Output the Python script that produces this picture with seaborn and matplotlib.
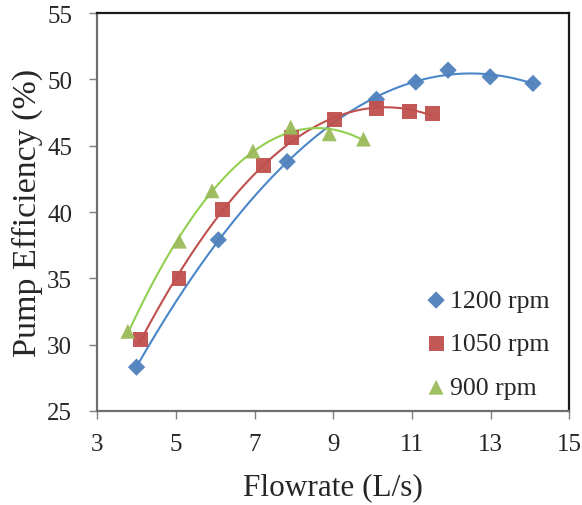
import numpy as np
import pandas as pd
import matplotlib
matplotlib.use("Agg")
import matplotlib.pyplot as plt
import seaborn as sns

# Measured pump efficiency at three rotational speeds
flow_1200 = [4.0, 6.08, 7.83, 10.1, 11.1, 11.92, 12.99, 14.08]
eff_1200 = [28.3, 37.9, 43.8, 48.5, 49.8, 50.7, 50.2, 49.7]

flow_1050 = [4.09, 5.08, 6.19, 7.22, 7.93, 9.03, 10.09, 10.93, 11.52]
eff_1050 = [30.4, 35.0, 40.2, 43.5, 45.6, 47.0, 47.8, 47.6, 47.4]

flow_900 = [3.78, 5.09, 5.92, 6.96, 7.92, 8.9, 9.77]
eff_900 = [31.0, 37.8, 41.6, 44.6, 46.4, 45.9, 45.5]

series_labels = ["1200 rpm", "1050 rpm", "900 rpm"]
x_ticks = [3, 5, 7, 9, 11, 13, 15]
y_ticks = [25, 30, 35, 40, 45, 50, 55]

df = pd.concat([
    pd.DataFrame({"Flowrate": flow_1200, "Efficiency": eff_1200, "Speed": series_labels[0]}),
    pd.DataFrame({"Flowrate": flow_1050, "Efficiency": eff_1050, "Speed": series_labels[1]}),
    pd.DataFrame({"Flowrate": flow_900, "Efficiency": eff_900, "Speed": series_labels[2]}),
], ignore_index=True)

marker_colors = {"1200 rpm": "#4F81BD", "1050 rpm": "#C0504D", "900 rpm": "#9BBB59"}
line_colors = {"1200 rpm": "#4A86C8", "1050 rpm": "#C0504D", "900 rpm": "#92D050"}
marker_shapes = {"1200 rpm": "D", "1050 rpm": "s", "900 rpm": "^"}
marker_area = {"1200 rpm": 78, "1050 rpm": 115, "900 rpm": 115}

sns.set_theme(style="white")
plt.rcParams["font.family"] = ["Liberation Serif", "DejaVu Serif"]

fig, ax = plt.subplots(figsize=(5.82, 5.06), dpi=100)
fig.subplots_adjust(left=0.167, right=0.978, top=0.972, bottom=0.186)

for label in series_labels:
    sub = df[df["Speed"] == label]
    # Quadratic trend line through each speed's measurements
    coeffs = np.polyfit(sub["Flowrate"], sub["Efficiency"], 2)
    xs = np.linspace(sub["Flowrate"].min(), sub["Flowrate"].max(), 200)
    ax.plot(xs, np.polyval(coeffs, xs), color=line_colors[label], lw=1.5, zorder=2)
    sns.scatterplot(data=sub, x="Flowrate", y="Efficiency", color=marker_colors[label],
                    marker=marker_shapes[label], s=marker_area[label], edgecolor="none",
                    alpha=0.95, label=label, legend=False, ax=ax, zorder=3)

ax.set_xlim(3, 15)
ax.set_ylim(25, 55)
ax.set_xticks(x_ticks)
ax.set_yticks(y_ticks)
ax.tick_params(axis="both", labelsize=18, direction="out", length=6, width=1,
               color="#808080", bottom=True, left=True)
ax.tick_params(axis="x", pad=10)
ax.tick_params(axis="y", pad=12)
for side in ["top", "right"]:
    ax.spines[side].set_visible(True)
    ax.spines[side].set_color("#1a1a1a")
    ax.spines[side].set_linewidth(1.6)
for side in ["left", "bottom"]:
    ax.spines[side].set_visible(True)
    ax.spines[side].set_color("#6e6e6e")
    ax.spines[side].set_linewidth(1.6)

ax.set_xlabel("Flowrate (L/s)", fontsize=22.5, labelpad=12)
ax.set_ylabel("Pump Efficiency (%)", fontsize=24.5, labelpad=3)

handles, labels = ax.get_legend_handles_labels()
ax.legend(handles, labels, loc="lower left", bbox_to_anchor=(0.699, 0.03),
          frameon=False, fontsize=18.5, handlelength=0.7, handletextpad=0.2,
          labelspacing=0.8, borderpad=0, borderaxespad=0)

fig.savefig("out.png", dpi=100, facecolor="white")
